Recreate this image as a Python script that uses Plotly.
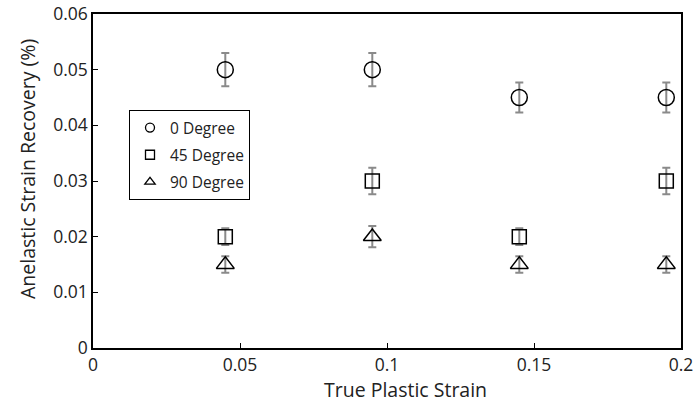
import plotly.graph_objects as go

strain = [0.045, 0.095, 0.145, 0.195]
deg0 = [0.05, 0.05, 0.045, 0.045]
deg0_err = [0.003, 0.003, 0.0027, 0.0027]
deg45 = [0.02, 0.03, 0.02, 0.03]
deg45_err = [0.0015, 0.0024, 0.0015, 0.0024]
deg90 = [0.015, 0.02, 0.015, 0.015]
deg90_err = [0.0015, 0.0019, 0.0015, 0.0015]

series = [
    ("0 Degree", deg0, deg0_err, "circle-open", 16),
    ("45 Degree", deg45, deg45_err, "square-open", 14),
    ("90 Degree", deg90, deg90_err, "triangle-up-open", 15.5),
]

W, H = 697, 404
ML, MR, MT, MB = 93, 16, 14, 56
FONT = "Open Sans"
TXT = "#222"
fig = go.Figure()
for i, (name, ys, errs, sym, size) in enumerate(series):
    fig.add_trace(go.Scatter(
        x=strain, y=ys, name=name, mode="markers", showlegend=False,
        marker=dict(symbol=sym, size=size, color="black", line=dict(color="black", width=1.5)),
        error_y=dict(type="data", array=errs, visible=True, color="#8a8a8a", thickness=2, width=4),
    ))
# legend entries (small symbols as in the reference legend)
for i, (name, ys, errs, sym, size) in enumerate(series):
    fig.add_trace(go.Scatter(
        x=[None], y=[None], name=name, mode="markers", legendgroup=f"g{i}",
        marker=dict(symbol=sym, size=9, color="black", line=dict(color="black", width=1.3)),
    ))

axis_common = dict(
    showgrid=False, zeroline=False, showline=True, linecolor="black", linewidth=1.5,
    mirror=True, ticks="inside", ticklen=5, tickcolor="black", automargin=False,
    tickfont=dict(family=FONT, size=17.5, color=TXT),
)
fig.update_xaxes(range=[0, 0.2], tickvals=[0, 0.05, 0.1, 0.15, 0.2],
                 ticktext=["0", "0.05", "0.1", "0.15", "0.2"], **axis_common)
fig.update_yaxes(range=[0, 0.06], tickvals=[0, 0.01, 0.02, 0.03, 0.04, 0.05, 0.06],
                 ticktext=["0", "0.01", "0.02", "0.03", "0.04", "0.05", "0.06"], **axis_common)

pw, ph = W - ML - MR, H - MT - MB
def px_x(p): return (p - ML) / pw
def px_y(p): return (H - MB - p) / ph

fig.add_annotation(text="True Plastic Strain", xref="paper", yref="paper",
                   x=px_x(405), y=px_y(389), xanchor="center", yanchor="middle",
                   showarrow=False, font=dict(family=FONT, size=19.5, color=TXT))
fig.add_annotation(text="Anelastic Strain Recovery (%)", xref="paper", yref="paper",
                   x=px_x(27), y=px_y(169), xanchor="center", yanchor="middle", textangle=-90,
                   showarrow=False, font=dict(family=FONT, size=19.5, color=TXT))

fig.update_layout(
    width=W, height=H,
    margin=dict(l=ML, r=MR, t=MT, b=MB, autoexpand=False),
    plot_bgcolor="white", paper_bgcolor="white",
    legend=dict(x=px_x(129), y=px_y(110), xanchor="left", yanchor="top",
                bordercolor="black", borderwidth=1, bgcolor="white",
                font=dict(family=FONT, size=15.5, color=TXT),
                tracegroupgap=4, itemwidth=30),
)
fig.write_html("out.html")
